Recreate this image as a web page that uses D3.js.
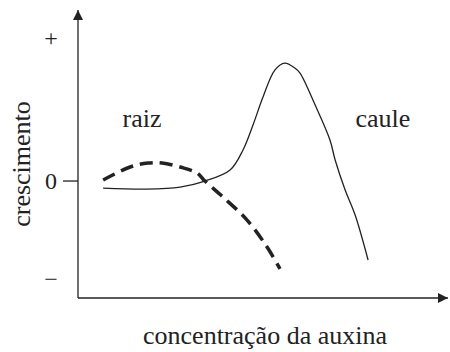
<!DOCTYPE html>
<html>
<head>
<meta charset="utf-8">
<script src="https://cdn.jsdelivr.net/npm/d3@7"></script>
</head>
<body style="margin:0">
<svg id="chart" width="450" height="352"></svg>
<script>
// Data (arbitrary units)
const caulePoints = [
  [6.8,-0.49],[18.6,-0.56],[27.6,-0.42],[34.3,0],[41.1,0.77],[44.6,2.17],
  [47.3,3.92],[50.0,5.87],[53.2,7.76],[55.9,8.25],[58.6,7.9],[60.0,7.55],
  [64.1,5.31],[68.1,2.87],[69.5,1.47],[72.2,-0.63],[74.9,-2.38],[78.4,-5.52]
];
const raizPoints = [
  [6.8,0.07],[14.1,0.98],[18.9,1.26],[22.7,1.26],[27.6,0.98],[32.2,0.56],
  [34.3,0],[39.2,-1.12],[45.7,-2.73],[51.1,-4.62],[54.6,-6.15]
];
const yTickValues = [10, 0, -6.85];
const yTickLabels = ["+", "0", "\u2212"];
const seriesLabels = [
  {name: "raiz", x: 17.3, y: 3.8},
  {name: "caule", x: 82.4, y: 3.8}
];
const xTitle = "concentração da auxina";
const yTitle = "crescimento";

const svg = d3.select("#chart");
const x = d3.scaleLinear().domain([0, 100]).range([78, 448]);
const y = d3.scaleLinear().domain([-8.18, 11.96]).range([298, 10]);
const ink = "#222";

// centre text manually (no text-anchor)
function centre(sel) {
  sel.each(function() {
    const w = this.getComputedTextLength();
    const cx = +this.getAttribute("data-cx");
    this.setAttribute("x", cx - w / 2);
  });
  return sel;
}

const defs = svg.append("defs");
defs.append("marker").attr("id","arr").attr("viewBox","0 0 10 10")
  .attr("refX",10).attr("refY",5).attr("markerWidth",10).attr("markerHeight",12)
  .attr("markerUnits","userSpaceOnUse").attr("orient","auto")
  .append("path").attr("d","M0,0 L10,5 L0,10 Z").attr("fill",ink);

svg.append("line").attr("x1", x(0)).attr("y1", y.range()[0]).attr("x2", x(0)).attr("y2", y.range()[1])
  .attr("stroke", ink).attr("stroke-width",1.3).attr("marker-end","url(#arr)");
svg.append("line").attr("x1", x(0)).attr("y1", y.range()[0]).attr("x2", x(100)).attr("y2", y.range()[0])
  .attr("stroke", ink).attr("stroke-width",1.3).attr("marker-end","url(#arr)");
svg.append("line").attr("x1", x(0)-15).attr("x2", x(0)).attr("y1", y(0)).attr("y2", y(0))
  .attr("stroke", ink).attr("stroke-width",1.3);

centre(svg.selectAll("text.tick").data(yTickValues).enter().append("text")
  .attr("class","tick")
  .attr("data-cx", 51).attr("y", d => y(d) + 8)
  .style("font-family", '"Liberation Serif"')
  .attr("font-size", 24).attr("fill", ink)
  .text((d,i) => yTickLabels[i]));

const line = d3.line().x(d => x(d[0])).y(d => y(d[1])).curve(d3.curveCatmullRom.alpha(0.5));
svg.append("path").datum(caulePoints).attr("d", line)
  .attr("fill","none").attr("stroke", ink).attr("stroke-width",1.3);
svg.append("path").datum(raizPoints).attr("d", line)
  .attr("fill","none").attr("stroke", ink).attr("stroke-width",3.5)
  .attr("stroke-dasharray","13,7");

centre(svg.selectAll("text.series").data(seriesLabels).enter().append("text")
  .attr("class","series")
  .attr("data-cx", d => x(d.x)).attr("y", d => y(d.y))
  .style("font-family", '"Liberation Serif"')
  .attr("font-size", 26).attr("fill", ink)
  .text(d => d.name));

centre(svg.append("text").attr("data-cx", 265).attr("y", 344)
  .style("font-family", '"Liberation Serif"')
  .attr("font-size", 26).attr("fill", ink).text(xTitle));

const yt = svg.append("g").attr("transform","translate(30,164) rotate(-90)");
centre(yt.append("text").attr("data-cx", 0).attr("y", 0)
  .style("font-family", '"Liberation Serif"')
  .attr("font-size", 26).attr("fill", ink).text(yTitle));
</script>
</body>
</html>
